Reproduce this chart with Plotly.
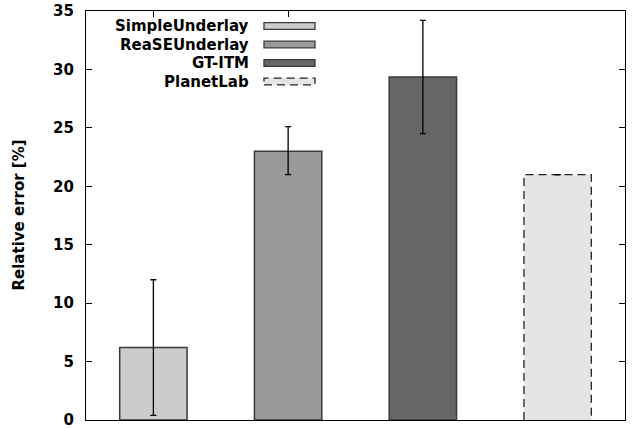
import plotly.graph_objects as go

categories = ["SimpleUnderlay", "ReaSEUnderlay", "GT-ITM", "PlanetLab"]
positions = [1, 2, 3, 4]
values = [6.2, 23.0, 29.35, 21.0]
err_plus = [5.8, 2.1, 4.85, 0.0]
err_minus = [5.8, 2.0, 4.85, 0.0]
fills = ["#cccccc", "#999999", "#666666", "#e5e5e5"]
y_ticks = [0, 5, 10, 15, 20, 25, 30, 35]

BAR_W = 0.5
FONT = "DejaVu Sans"
EDGE = "#3a3a3a"

FIG_W, FIG_H = 636, 428
plot_l, plot_r, plot_t, plot_b = 86, 625, 11, 420
pw, ph = plot_r - plot_l, plot_b - plot_t

def px(x):
    return (x - plot_l) / pw

def py(y):
    return (plot_b - y) / ph

fig = go.Figure()

line_widths = [1.5, 1.5, 1.5, 0]
fig.add_trace(go.Bar(
    x=positions, y=values, width=BAR_W,
    marker=dict(color=fills, line=dict(color=EDGE, width=line_widths)),
    error_y=dict(type="data", array=err_plus, arrayminus=err_minus,
                 color="black", thickness=1.3, width=3),
    showlegend=False,
))

# dashed outline for PlanetLab bar (derived from its data value)
i = 3
x0, x1 = positions[i] - BAR_W / 2, positions[i] + BAR_W / 2
fig.add_trace(go.Scatter(
    x=[x0, x0, x1, x1], y=[0, values[i], values[i], 0],
    mode="lines", line=dict(color="#222222", width=1.3, dash="8px,5px"),
    showlegend=False, hoverinfo="skip",
))
fig.add_trace(go.Scatter(
    x=[positions[i] - 0.022, positions[i] + 0.022], y=[values[i], values[i]],
    mode="lines", line=dict(color="black", width=1.3),
    showlegend=False, hoverinfo="skip",
))

# manual legend (text right-aligned, sample box on the right)
row_y = [26.0, 44.5, 63.0, 81.5]
for k, name in enumerate(categories):
    fig.add_annotation(
        x=px(251), y=py(row_y[k]), xref="paper", yref="paper",
        text=name, showarrow=False, xanchor="right", yanchor="middle",
        font=dict(family=FONT, size=15, color="black", weight="bold"),
    )
    fig.add_shape(
        type="rect", xref="paper", yref="paper",
        x0=px(264), x1=px(315), y0=py(row_y[k] + 3.3), y1=py(row_y[k] - 3.3),
        fillcolor=fills[k],
        line=dict(color=EDGE if k < 3 else "#222222", width=1.3,
                  dash="solid" if k < 3 else "8px,5px"),
    )

fig.add_annotation(
    x=px(18), y=py(215.5), xref="paper", yref="paper", text="Relative error [%]",
    textangle=-90, showarrow=False, xanchor="center", yanchor="middle",
    font=dict(family=FONT, size=15, color="black", weight="bold"),
)

fig.update_layout(
    width=FIG_W, height=FIG_H, autosize=False,
    margin=dict(l=plot_l, r=FIG_W - plot_r, t=plot_t, b=FIG_H - plot_b, pad=0,
                autoexpand=False),
    plot_bgcolor="white", paper_bgcolor="white",
    showlegend=False,
    xaxis=dict(range=[0.5, 4.5], tickvals=[1, 2], showticklabels=False,
               ticks="inside", ticklen=6, tickcolor="black", tickwidth=1,
               showline=True, linecolor="black", linewidth=1.3, mirror="ticks",
               showgrid=False, zeroline=False, layer="below traces",
               automargin=False),
    yaxis=dict(range=[0, 35], tickvals=y_ticks,
               ticks="inside", ticklen=6, tickcolor="black", tickwidth=1,
               showline=True, linecolor="black", linewidth=1.3, mirror="ticks",
               showgrid=False, zeroline=False, ticklabelstandoff=8,
               ticklabeloverflow="allow", automargin=False,
               tickfont=dict(family=FONT, size=15, color="black", weight="bold")),
)

fig.write_html("out.html", config={"displayModeBar": False, "responsive": False},
               post_script="document.body.style.margin='0';document.body.style.overflow='hidden';")
